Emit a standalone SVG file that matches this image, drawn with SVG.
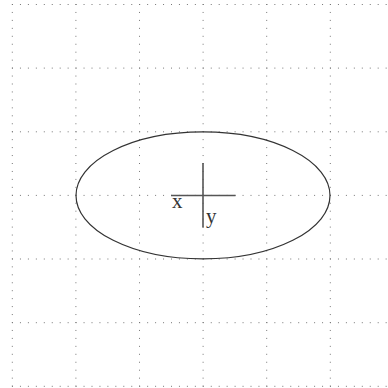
<svg xmlns="http://www.w3.org/2000/svg" width="388" height="388" viewBox="0 0 388 388">
<style>
.grid{stroke:#777;stroke-width:1;stroke-dasharray:1 6.95;fill:none}
.shape{stroke:#333;stroke-width:1.2;fill:none}
.axis{stroke:#555;stroke-width:1.6;fill:none}
.lbl{font-family:"Liberation Serif",serif;font-size:21px;fill:#333}
</style>
<rect width="388" height="388" fill="#fff"/>
<g id="grid">
<path class="grid" d="M12 4.5H388M12 68.1H388M12 131.8H388M12 195.4H388M12 259H388M12 322.7H388M12 386.3H388"/>
<path class="grid" d="M12.3 4V388M75.9 4V388M139.5 4V388M203.1 4V388M266.7 4V388M330.3 4V388"/>
</g>
<g id="ellipse">
<ellipse class="shape" cx="203" cy="195.4" rx="127" ry="63.5"/>
</g>
<g id="axes">
<path class="axis" d="M171 195.5H235.5M203 163V227.5"/>
<text class="lbl" x="172" y="208">x</text>
<text class="lbl" x="206" y="223">y</text>
</g>
</svg>
